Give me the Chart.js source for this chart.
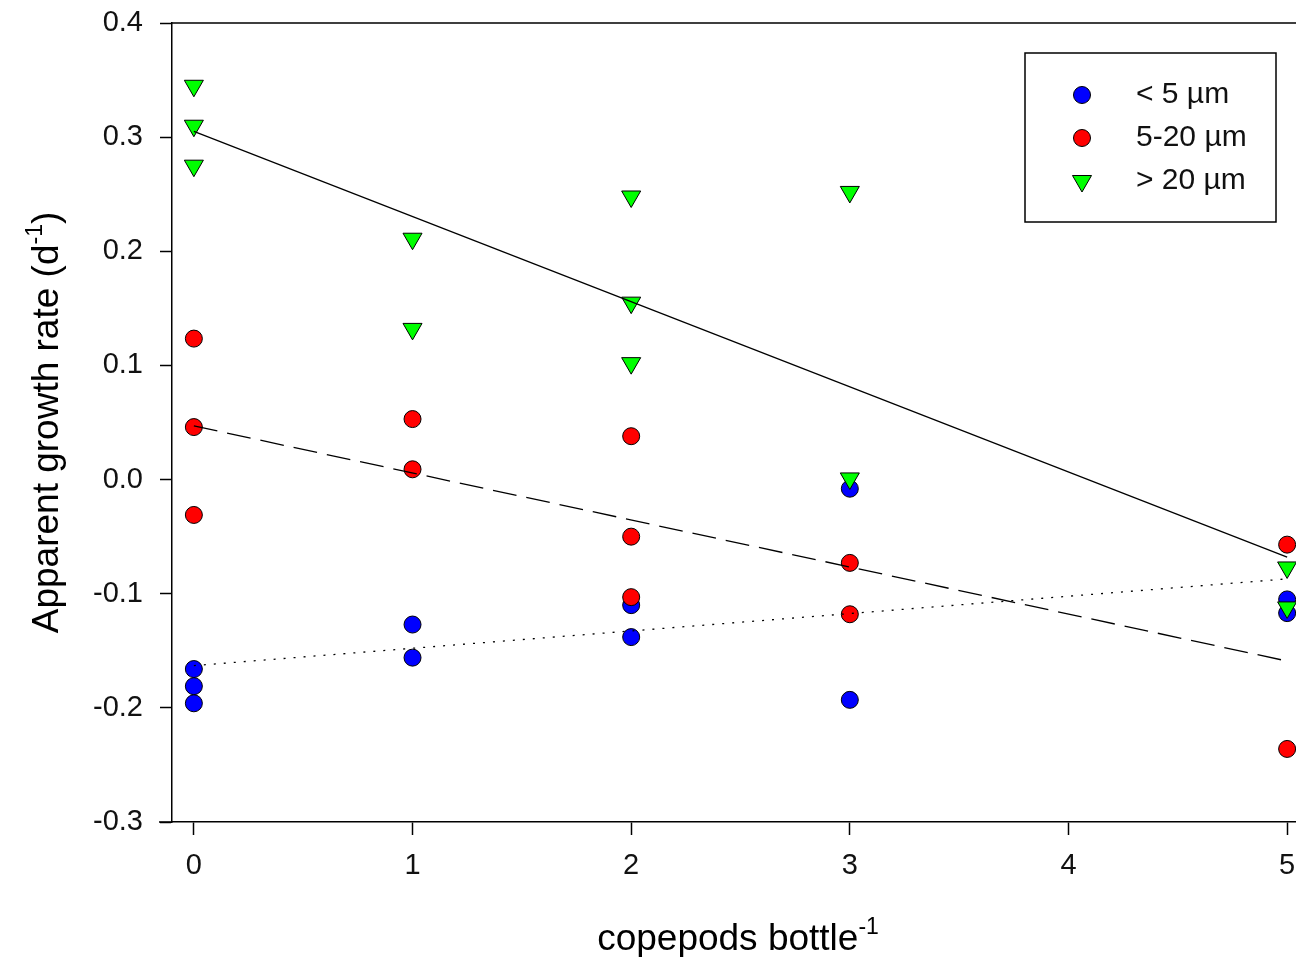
<!DOCTYPE html>
<html>
<head>
<meta charset="utf-8">
<script src="https://cdn.jsdelivr.net/npm/chart.js@4.4.1/dist/chart.umd.min.js"></script>
<style>
  html, body { margin: 0; padding: 0; background: #fff; overflow: hidden; }
  canvas { display: block; }
</style>
</head>
<body>
<canvas id="growthChart" width="1321" height="957"></canvas>
<script>
// Data
const xTicks = [0, 1, 2, 3, 4, 5];
const yTicks = [-0.3, -0.2, -0.1, 0.0, 0.1, 0.2, 0.3, 0.4];

const smallX = [0, 0, 0, 1, 1, 2, 2, 3, 3, 5, 5];
const smallY = [-0.166, -0.181, -0.196, -0.127, -0.156, -0.110, -0.138, -0.008, -0.193, -0.105, -0.117];

const mediumX = [0, 0, 0, 1, 1, 2, 2, 2, 3, 3, 5, 5];
const mediumY = [0.1235, 0.046, -0.031, 0.053, 0.009, 0.038, -0.050, -0.103, -0.073, -0.118, -0.057, -0.236];

const largeX = [0, 0, 0, 1, 1, 2, 2, 2, 3, 3, 5, 5];
const largeY = [0.345, 0.31, 0.275, 0.211, 0.132, 0.248, 0.155, 0.102, 0.252, 0.001, -0.077, -0.112];

// regression lines (end points)
const fitX = [0, 5];
const smallFit = [-0.163, -0.087];
const mediumFit = [0.047, -0.159];
const largeFit = [0.305, -0.068];

const labels = ["< 5 \u00b5m", "5-20 \u00b5m", "> 20 \u00b5m"];

const FONT = "'Liberation Sans', Arial, Helvetica, sans-serif";

function pts(xs, ys) {
  return xs.map((x, i) => ({ x: x, y: ys[i] }));
}

function scatterSet(label, xs, ys, color, style, order) {
  return {
    label: label,
    data: pts(xs, ys),
    showLine: false,
    pointStyle: style,
    pointRotation: style === "triangle" ? 180 : 0,
    pointRadius: style === "triangle" ? 11 : 8.5,
    pointBackgroundColor: color,
    pointBorderColor: "#000",
    pointBorderWidth: 1,
    order: order,
    clip: false,
  };
}

function fitSet(ys, dash) {
  return {
    label: "fit",
    data: pts(fitX, ys),
    showLine: true,
    pointRadius: 0,
    borderColor: "#000",
    borderWidth: 1.3,
    borderDash: dash,
    fill: false,
    order: 0,
  };
}

// text with a superscript part, centred on (0,0) of the current transform
function supText(ctx, parts, size, supSize, rise) {
  ctx.font = size + "px " + FONT;
  const w0 = ctx.measureText(parts[0]).width;
  const w2 = ctx.measureText(parts[2]).width;
  ctx.font = supSize + "px " + FONT;
  const w1 = ctx.measureText(parts[1]).width;
  let x = -(w0 + w1 + w2) / 2;
  ctx.textAlign = "left";
  ctx.textBaseline = "alphabetic";
  const base = size * 0.36;
  ctx.font = size + "px " + FONT;
  ctx.fillText(parts[0], x, base);
  x += w0;
  ctx.font = supSize + "px " + FONT;
  ctx.fillText(parts[1], x, base - rise);
  x += w1;
  ctx.font = size + "px " + FONT;
  ctx.fillText(parts[2], x, base);
}

// frame, axis titles and boxed legend
const framePlugin = {
  id: "frame",
  afterDraw(chart) {
    const { ctx, chartArea } = chart;
    ctx.save();
    ctx.strokeStyle = "#000";
    ctx.lineWidth = 1.5;
    ctx.beginPath();
    ctx.moveTo(chartArea.left, chartArea.top);
    ctx.lineTo(chartArea.right, chartArea.top);
    ctx.moveTo(chartArea.left - 13, chartArea.bottom);
    ctx.lineTo(chartArea.left, chartArea.bottom);
    ctx.stroke();

    // axis titles
    ctx.fillStyle = "#000";
    ctx.save();
    ctx.translate(chartArea.left + 566, 937);
    supText(ctx, ["copepods bottle", "-1", ""], 37, 23, 16);
    ctx.restore();
    ctx.save();
    ctx.translate(45, (chartArea.top + chartArea.bottom) / 2);
    ctx.rotate(-Math.PI / 2);
    supText(ctx, ["Apparent growth rate (d", "-1", ")"], 37, 23, 16);
    ctx.restore();

    // legend box
    const bx = chartArea.left + 853;
    const by = chartArea.top + 30;
    const bw = 251;
    const bh = 169;
    ctx.fillStyle = "#fff";
    ctx.fillRect(bx, by, bw, bh);
    ctx.lineWidth = 1.5;
    ctx.strokeRect(bx, by, bw, bh);

    const order = [2, 1, 0];
    order.forEach((di, row) => {
      const ds = chart.data.datasets[di];
      const y = by + 42 + row * 43;
      ctx.fillStyle = ds.pointBackgroundColor;
      ctx.strokeStyle = "#000";
      ctx.lineWidth = 1;
      Chart.helpers.drawPoint(ctx, {
        pointStyle: ds.pointStyle,
        rotation: ds.pointRotation,
        radius: ds.pointRadius,
        borderWidth: 1,
      }, bx + 57, y);
      ctx.fillStyle = "#111";
      ctx.font = "30px " + FONT;
      ctx.textAlign = "left";
      ctx.textBaseline = "middle";
      ctx.fillText(ds.label, bx + 111, y);
    });
    ctx.restore();
  },
};

const ctx = document.getElementById("growthChart").getContext("2d");
const growthChart = new Chart(ctx, {
  type: "scatter",
  data: {
    datasets: [
      scatterSet(labels[2], largeX, largeY, "#00ff00", "triangle", 1),
      scatterSet(labels[1], mediumX, mediumY, "#ff0000", "circle", 2),
      scatterSet(labels[0], smallX, smallY, "#0000ff", "circle", 3),
      fitSet(largeFit, []),
      fitSet(mediumFit, [24, 10]),
      fitSet(smallFit, [2, 8]),
    ],
  },
  plugins: [framePlugin],
  options: {
    responsive: false,
    animation: false,
    layout: { padding: { top: 23, right: 0, left: 0, bottom: 0 } },
    plugins: {
      legend: { display: false },
      tooltip: { enabled: false },
    },
    scales: {
      x: {
        type: "linear",
        min: -0.1,
        max: 5.1,
        afterBuildTicks: (scale) => {
          scale.ticks = xTicks.map((v) => ({ value: v }));
        },
        afterFit: (scale) => {
          scale.height = 135;
          scale.paddingLeft = 0;
          scale.paddingRight = 0;
        },
        grid: {
          drawOnChartArea: false,
          drawTicks: true,
          tickLength: 13,
          tickColor: "#000",
          tickWidth: 1.5,
        },
        border: { display: true, color: "#000", width: 1.5 },
        ticks: {
          padding: 14,
          color: "#111",
          font: { family: FONT, size: 29 },
          callback: (v) => String(v),
        },
        title: { display: false },
      },
      y: {
        type: "linear",
        min: -0.3,
        max: 0.4,
        afterBuildTicks: (scale) => {
          scale.ticks = yTicks.map((v) => ({ value: v }));
        },
        afterFit: (scale) => {
          scale.width = 172;
          scale.paddingTop = 0;
          scale.paddingBottom = 0;
        },
        grid: {
          drawOnChartArea: false,
          drawTicks: true,
          tickLength: 12,
          tickColor: "#000",
          tickWidth: 1.5,
        },
        border: { display: true, color: "#000", width: 1.5 },
        ticks: {
          padding: 17,
          color: "#111",
          font: { family: FONT, size: 29 },
          callback: (v) => Number(v).toFixed(1),
        },
        title: { display: false },
      },
    },
  },
});
</script>
</body>
</html>
